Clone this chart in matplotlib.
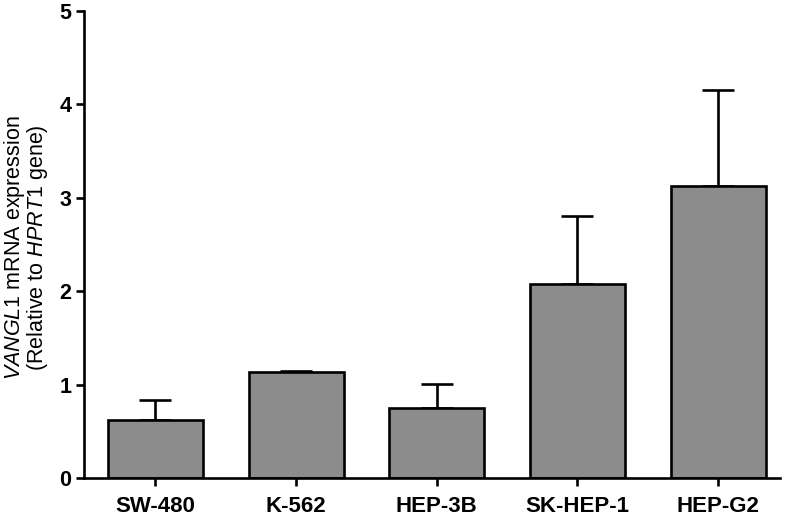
import matplotlib
matplotlib.use("Agg")
import matplotlib.pyplot as plt
import numpy as np

categories = ["SW-480", "K-562", "HEP-3B", "SK-HEP-1", "HEP-G2"]
means = [0.62, 1.13, 0.75, 2.08, 3.13]
errors = [0.21, 0.02, 0.26, 0.72, 1.02]
yticks = [0, 1, 2, 3, 4, 5]

plt.rcParams['font.family'] = ['Liberation Sans', 'DejaVu Sans']
plt.rcParams['mathtext.fontset'] = 'custom'
plt.rcParams['mathtext.rm'] = 'Liberation Sans'
plt.rcParams['mathtext.it'] = 'Liberation Sans:italic'

fig = plt.figure(figsize=(7.92, 5.2), dpi=100)
ax = fig.add_axes([84/792, 1-478/520, (780-84)/792, (478-11)/520])

x = np.arange(len(categories))
lw = 1.9
ax.bar(x, means, width=0.675, color='#8c8c8c', edgecolor='black', linewidth=lw, zorder=2)
ax.errorbar(x, means, yerr=[np.zeros(len(errors)), errors], fmt='none', ecolor='black',
            elinewidth=lw, capsize=11.5, capthick=lw, zorder=1)

ax.set_xlim(-0.508, 4.44)
ax.set_ylim(0, 5)
ax.set_yticks(yticks)
ax.set_xticks(x)
ax.set_xticklabels(categories, fontsize=16, fontweight='bold')
ax.set_yticklabels([str(v) for v in yticks], fontsize=15.5, fontweight='bold')
for s in ['top', 'right']:
    ax.spines[s].set_visible(False)
for s in ['left', 'bottom']:
    ax.spines[s].set_linewidth(lw)
ax.tick_params(axis='both', width=lw, length=6)
ax.tick_params(axis='x', pad=7)
ax.tick_params(axis='y', pad=3)

fig.text(26/792, 1-248/520,
         "$\\mathit{VANGL1}$ mRNA expression\n(Relative to $\\mathit{HPRT1}$ gene)",
         fontsize=15.5, linespacing=0.9, rotation=90, ha='center', va='center',
         multialignment='center')

fig.savefig("out.png", dpi=100)
